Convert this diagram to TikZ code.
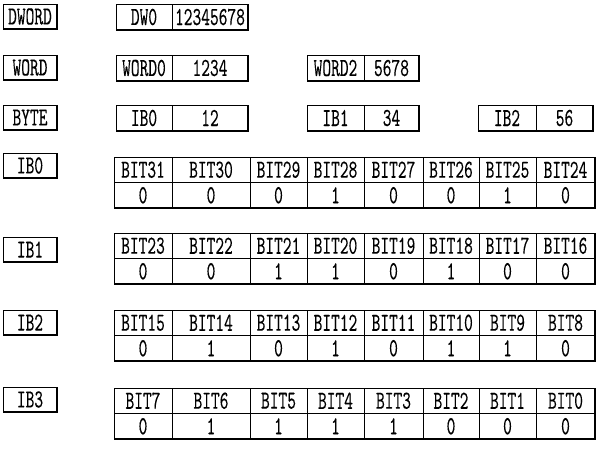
\documentclass[tikz,border=0pt]{standalone}
\usepackage{fontspec}
\setmonofont[FakeStretch=0.64, FakeBold=0.2]{lmmono10-regular.otf}

\begin{document}
\begin{tikzpicture}[x=1pt, y=-1pt, line width=.9pt,
    font=\ttfamily\fontsize{26}{27}\selectfont,
    cell/.style={draw, rectangle, anchor=north west, inner sep=0pt, outer sep=0pt},
    shadow edge/.style={line width=1.8pt}]
\useasboundingbox (0,0) rectangle (600,450);
% type labels on the left
\foreach \name/\top in {DWORD/4, WORD/55, BYTE/105, IB0/153, IB1/237, IB2/310, IB3/387}{
    \node[cell, minimum width=54, minimum height=25] (lab-\name) at (3,\top) {\name};
    \draw[shadow edge] (lab-\name.north east) -- (lab-\name.south east) -- (lab-\name.south west);
}
% name / value boxes
\foreach \id/\name/\val/\xl/\xm/\xr/\top in {dw0/DW0/12345678/116/172/248/4,
    word0/WORD0/1234/116/172/248/55, word2/WORD2/5678/307/364/419/55,
    b0/IB0/12/116/172/248/105, b1/IB1/34/307/364/419/105, b2/IB2/56/478/536/593/105}{
    \node[cell, minimum width=\xm-\xl, minimum height=26] (\id-name) at (\xl,\top) {\name};
    \node[cell, minimum width=\xr-\xm, minimum height=26] (\id-val) at (\xm,\top) {\val};
    \draw[shadow edge] (\id-val.north east) -- (\id-val.south east) -- (\id-name.south west);
}
% bit tables
\foreach \row/\top/\hi/\vals in {IB0/157/31/{0,0,0,1,0,0,1,0}, IB1/233/23/{0,0,1,1,0,1,0,0},
    IB2/310/15/{0,1,0,1,0,1,1,0}, IB3/388/7/{0,1,1,1,1,0,0,0}}{
    \foreach \bitval [count=\col] in \vals {
        \pgfmathsetmacro{\xl}{{114,172,250,307,364,423,479,536,595}[\col-1]}
        \pgfmathsetmacro{\xr}{{114,172,250,307,364,423,479,536,595}[\col]}
        \pgfmathtruncatemacro{\bit}{\hi-\col+1}
        \node[cell, minimum width=\xr-\xl, minimum height=25.5] (\row-h\col) at (\xl,\top) {BIT\bit};
        \node[cell, minimum width=\xr-\xl, minimum height=25.5] (\row-v\col) at (\row-h\col.south west) {\bitval};
    }
    \draw[shadow edge] (\row-h8.north east) -- (\row-v8.south east) -- (\row-v1.south west);
}
\end{tikzpicture}
\end{document}
